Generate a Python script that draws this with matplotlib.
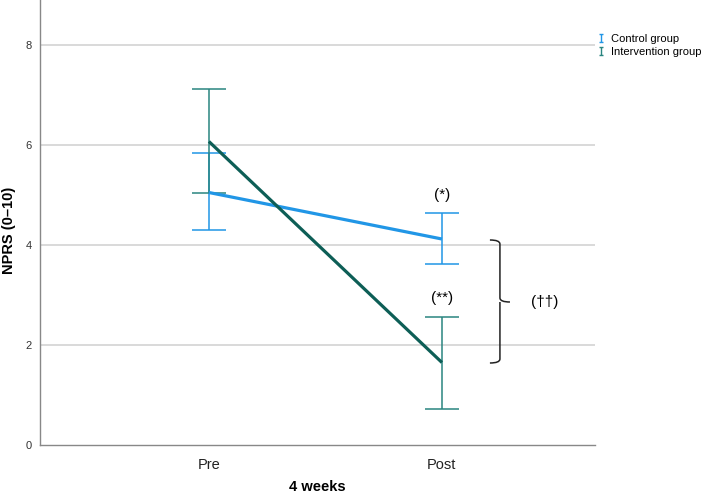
import matplotlib
matplotlib.use("Agg")
import matplotlib.pyplot as plt
from matplotlib.path import Path
from matplotlib.patches import PathPatch
from matplotlib.lines import Line2D

plt.rcParams["font.family"] = ["Liberation Sans", "DejaVu Sans"]

categories = ["Pre", "Post"]
groups = ["Control group", "Intervention group"]
control_mean = [5.05, 4.12]
control_low = [4.30, 3.62]
control_high = [5.83, 4.63]
interv_mean = [6.07, 1.65]
interv_low = [5.03, 0.72]
interv_high = [7.12, 2.57]
yticks = [0, 2, 4, 6, 8]

c_ctrl = "#2196e6"
c_int_line = "#0d5e56"
c_int_err = "#2a8580"

fig = plt.figure(figsize=(7.09, 4.98), dpi=100)
ax = fig.add_axes([40/709, 1-445/498, 555/709, 445/498])
x = [0, 1]

for y, lo, hi, ce in [
    (control_mean, control_low, control_high, c_ctrl),
    (interv_mean, interv_low, interv_high, c_int_err),
]:
    yerr = [[m - l for m, l in zip(y, lo)], [h - m for m, h in zip(y, hi)]]
    ax.errorbar(x, y, yerr=yerr, fmt="none", ecolor=ce, elinewidth=1.1,
                capsize=12.5, capthick=1.1, zorder=3)
for y, cl in [(control_mean, c_ctrl), (interv_mean, c_int_line)]:
    ax.plot(x, y, color=cl, lw=2.3, zorder=4, solid_capstyle="butt")

ax.set_xlim(-0.725, 1.657)
ax.set_ylim(0, 8.9)
ax.set_yticks(yticks)
ax.set_xticks(x)
ax.set_xticklabels(categories, fontsize=10.5, color="#222222")
ax.tick_params(axis="y", length=0, labelsize=8, colors="#333333", pad=6)
ax.tick_params(axis="x", length=0, pad=9)
for t in yticks[1:]:
    ax.axhline(t, color="#d0d0d0", lw=1.1, zorder=1)
for s in ["top", "right"]:
    ax.spines[s].set_visible(False)
for s in ["left", "bottom"]:
    ax.spines[s].set_color("#888888")
    ax.spines[s].set_linewidth(1.0)

fig.text(9/709, 1-230/498, "NPRS (0\u201310)", rotation=90, ha="center", va="center",
         fontsize=10.5, fontweight="bold")
fig.text(317/709, 1-487/498, "4 weeks", ha="center", va="center",
         fontsize=10.5, fontweight="bold")

# annotations
ax.text(1, 5.0, "(*)", ha="center", va="center", fontsize=11)
ax.text(1, 2.94, "(**)", ha="center", va="center", fontsize=11)
ax.text(1.442, 2.86, "(\u2020\u2020)", ha="center", va="center", fontsize=11)

# bracket
x0, x1, x2 = 1.206, 1.249, 1.292
ytop, ymid, ybot = 4.10, 2.86, 1.64
verts = [(x0, ytop), (x1, ytop), (x1, ytop - 0.08),
         (x1, ymid + 0.08), (x1, ymid), (x2, ymid),
         (x1, ymid), (x1, ymid - 0.08),
         (x1, ybot + 0.08), (x1, ybot), (x0, ybot)]
codes = [Path.MOVETO, Path.CURVE3, Path.CURVE3,
         Path.LINETO, Path.CURVE3, Path.CURVE3,
         Path.MOVETO, Path.LINETO,
         Path.LINETO, Path.CURVE3, Path.CURVE3]
ax.add_patch(PathPatch(Path(verts, codes), fill=False, lw=1.1, color="#222222", clip_on=False))

# legend with I-shaped markers
ipath = Path([(-0.45, -1), (0.45, -1), (0, -1), (0, 1), (-0.45, 1), (0.45, 1)],
             [Path.MOVETO, Path.LINETO, Path.MOVETO, Path.LINETO, Path.MOVETO, Path.LINETO])
handles = [Line2D([], [], linestyle="none", marker=ipath, markersize=5.5,
                  markeredgecolor=c, markerfacecolor="none", markeredgewidth=1.0)
           for c in [c_ctrl, c_int_err]]
fig.legend(handles, groups, loc="upper left", bbox_to_anchor=(597/709, 1-34/498),
           frameon=False, fontsize=8, handlelength=0.8, handletextpad=0.5,
           labelspacing=0.3, borderaxespad=0, borderpad=0)

fig.savefig("out.png", dpi=100)
